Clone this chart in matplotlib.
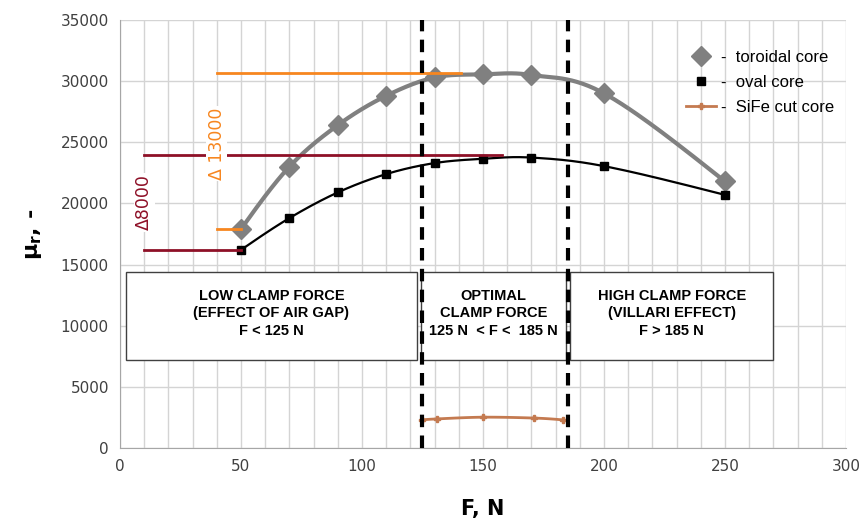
import numpy as np
import matplotlib.pyplot as plt
from matplotlib.patches import Rectangle

# data
F_toroidal = [50, 70, 90, 110, 130, 150, 170, 200, 250]
mu_toroidal = [17900, 23000, 26400, 28800, 30300, 30550, 30500, 29000, 21800]

F_oval = [50, 70, 90, 110, 130, 150, 170, 200, 250]
mu_oval = [16200, 18800, 20900, 22400, 23300, 23650, 23750, 23050, 20700]

F_sife = [125, 131, 150, 171, 183]
mu_sife = [2300, 2380, 2520, 2450, 2300]

# reference levels (value, x start, x end, colour)
orange = '#F7861F'
darkred = '#8E1027'
ref_lines = [(30700, 40, 141, orange), (17900, 40, 50, orange),
             (24000, 10, 158, darkred), (16200, 10, 50, darkred)]

zone_edges = [125, 185]
zones = [(2.5, 122.7, 'LOW CLAMP FORCE\n(EFFECT OF AIR GAP)\nF < 125 N'),
         (124.4, 184.3, 'OPTIMAL\nCLAMP FORCE\n125 N  < F <  185 N'),
         (186, 270, 'HIGH CLAMP FORCE\n(VILLARI EFFECT)\nF > 185 N')]
zone_y = (7200, 14400)


def smooth(x, y, n=30):
    # excel-like smoothed line (hermite spline through the points)
    x = np.asarray(x, float)
    y = np.asarray(y, float)
    m = len(x)
    tx = np.zeros(m)
    ty = np.zeros(m)
    tx[1:-1] = (x[2:] - x[:-2]) / 2
    ty[1:-1] = (y[2:] - y[:-2]) / 2
    tx[0] = (x[1] - x[0]) * 1.5 - tx[1] / 2
    ty[0] = (y[1] - y[0]) * 1.5 - ty[1] / 2
    tx[-1] = (x[-1] - x[-2]) * 1.5 - tx[-2] / 2
    ty[-1] = (y[-1] - y[-2]) * 1.5 - ty[-2] / 2
    t = np.linspace(0, 1, n)
    h00 = 2 * t ** 3 - 3 * t ** 2 + 1
    h10 = t ** 3 - 2 * t ** 2 + t
    h01 = -2 * t ** 3 + 3 * t ** 2
    h11 = t ** 3 - t ** 2
    xs, ys = [], []
    for i in range(m - 1):
        xs.append(h00 * x[i] + h10 * tx[i] + h01 * x[i + 1] + h11 * tx[i + 1])
        ys.append(h00 * y[i] + h10 * ty[i] + h01 * y[i + 1] + h11 * ty[i + 1])
    return np.concatenate(xs), np.concatenate(ys)


fig = plt.figure(figsize=(8.62, 5.18), dpi=100)
ax = fig.add_axes([0.1392, 0.1351, 0.8422, 0.8263])

ax.set_xlim(0, 300)
ax.set_ylim(0, 35000)
ax.set_xticks(np.arange(0, 301, 50))
ax.set_xticks(np.arange(0, 301, 10), minor=True)
ax.set_yticks(np.arange(0, 35001, 5000))
ax.grid(True, which='both', axis='x', color='#D4D4D4', lw=1, zorder=0)
ax.grid(True, which='major', axis='y', color='#D4D4D4', lw=1, zorder=0)
ax.set_axisbelow(True)
for s in ['top', 'right']:
    ax.spines[s].set_visible(False)
for s in ['left', 'bottom']:
    ax.spines[s].set_color('#A6A6A6')
ax.tick_params(which='both', length=0, labelsize=11, labelcolor='#404040', pad=8)

# zone boxes
for x0, x1, txt in zones:
    ax.add_patch(Rectangle((x0, zone_y[0]), x1 - x0, zone_y[1] - zone_y[0],
                           facecolor='white', edgecolor='#404040', lw=1, zorder=2))
    ax.text((x0 + x1) / 2, (zone_y[0] + zone_y[1]) / 2 + 200, txt, ha='center', va='center',
            fontsize=10.5, fontweight='bold', family='Liberation Sans',
            linespacing=1.3, zorder=3)

# curves
sx, sy = smooth(F_toroidal, mu_toroidal)
ax.plot(sx, sy, color='#808080', lw=3, zorder=4)
ax.plot(F_toroidal, mu_toroidal, ls='none', marker='D', ms=10, color='#808080', zorder=5,
        label='-  toroidal core')

sx, sy = smooth(F_oval, mu_oval)
ax.plot(sx, sy, color='black', lw=1.6, zorder=4)
ax.plot(F_oval, mu_oval, ls='none', marker='s', ms=6, color='black', zorder=5,
        label='-  oval core')

sx, sy = smooth(F_sife, mu_sife)
ax.plot(sx, sy, color='#C47A50', lw=2, zorder=4)
ax.plot(F_sife, mu_sife, ls='none', marker='P', ms=5, color='#C47A50', zorder=5)
ax.plot([], [], color='#C47A50', lw=2, marker='P', ms=5, label='-  SiFe cut core')

# reference levels
for val, x0, x1, c in ref_lines:
    ax.plot([x0, x1], [val, val], color=c, lw=2, zorder=6)

ax.text(40, 24900, '\u0394 13000', rotation=90, color=orange, fontsize=12.5,
        ha='center', va='center', zorder=7,
        bbox=dict(facecolor='white', edgecolor='none', pad=1))
ax.text(10, 20100, '\u03948000', rotation=90, color=darkred, fontsize=12.5,
        ha='center', va='center', zorder=7,
        bbox=dict(facecolor='white', edgecolor='none', pad=1))

# zone borders
for xe in zone_edges:
    ax.axvline(xe, color='black', lw=3, ls=(0, (3, 2)), zorder=8)

leg = ax.legend(loc='upper right', bbox_to_anchor=(1.005, 0.965), frameon=False,
                prop={'family': 'Liberation Sans', 'size': 12}, handlelength=1.8,
                handletextpad=0.3, labelspacing=0.6)

ax.set_xlabel('F, N', fontsize=15, fontweight='bold', labelpad=18)
ax.set_ylabel('\u03bc$_\\mathbf{r}$, -', fontsize=16, fontweight='bold', labelpad=12)

fig.savefig('out.png', dpi=100)
